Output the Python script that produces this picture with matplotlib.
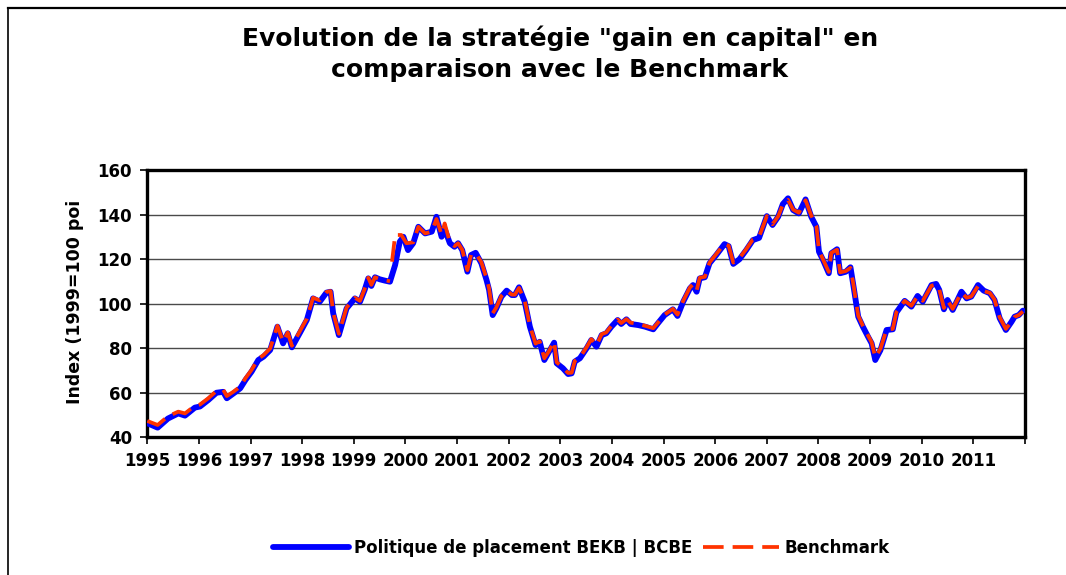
import numpy as np
import matplotlib
matplotlib.use("Agg")
import matplotlib.pyplot as plt
from matplotlib.lines import Line2D

# ---------------- data ----------------
years = [1995.00, 1995.20, 1995.40, 1995.60, 1995.73, 1995.92, 1996.02, 1996.18,
         1996.34, 1996.47, 1996.54, 1996.67, 1996.80, 1996.90, 1997.02, 1997.15,
         1997.25, 1997.38, 1997.52, 1997.63, 1997.72, 1997.80, 1997.96, 1998.09,
         1998.21, 1998.34, 1998.47, 1998.55, 1998.60, 1998.71, 1998.86, 1999.02,
         1999.12, 1999.21, 1999.28, 1999.34, 1999.41, 1999.50, 1999.60, 1999.70,
         1999.80, 1999.89, 1999.96, 2000.05, 2000.15, 2000.25, 2000.38, 2000.51,
         2000.60, 2000.70, 2000.76, 2000.86, 2000.95, 2001.02, 2001.10, 2001.20,
         2001.27, 2001.36, 2001.47, 2001.57, 2001.62, 2001.69, 2001.76, 2001.86,
         2001.96, 2002.06, 2002.12, 2002.20, 2002.31, 2002.41, 2002.52, 2002.60,
         2002.69, 2002.78, 2002.88, 2002.93, 2003.05, 2003.15, 2003.22, 2003.28,
         2003.38, 2003.51, 2003.60, 2003.70, 2003.80, 2003.89, 2003.99, 2004.11,
         2004.18, 2004.28, 2004.36, 2004.51, 2004.64, 2004.80, 2004.89, 2005.02,
         2005.18, 2005.27, 2005.38, 2005.51, 2005.57, 2005.64, 2005.70, 2005.80,
         2005.89, 2006.02, 2006.18, 2006.26, 2006.35, 2006.47, 2006.60, 2006.73,
         2006.85, 2007.00, 2007.11, 2007.22, 2007.31, 2007.41, 2007.51, 2007.62,
         2007.75, 2007.86, 2007.96, 2008.01, 2008.09, 2008.20, 2008.25, 2008.36,
         2008.42, 2008.53, 2008.62, 2008.68, 2008.77, 2008.86, 2008.96, 2009.03,
         2009.10, 2009.20, 2009.32, 2009.44, 2009.51, 2009.67, 2009.80, 2009.92,
         2010.02, 2010.19, 2010.28, 2010.34, 2010.43, 2010.50, 2010.60, 2010.77,
         2010.87, 2010.96, 2011.09, 2011.20, 2011.32, 2011.41, 2011.51, 2011.63,
         2011.74, 2011.80, 2011.88, 2011.96]

politique = [46.2, 44.2, 48.3, 50.6, 49.6, 53.2, 53.7, 56.6,
             59.9, 60.3, 57.4, 59.6, 61.9, 65.6, 69.4, 74.6,
             76.1, 79.1, 89.6, 82.1, 86.6, 80.3, 87.0, 92.6,
             102.3, 100.8, 104.9, 105.3, 95.6, 85.8, 97.8, 102.3,
             100.8, 106.1, 111.3, 107.9, 111.8, 110.9, 110.3, 109.8,
             117.3, 127.8, 130.0, 124.0, 127.1, 134.5, 131.5, 132.3,
             139.0, 130.0, 133.5, 127.1, 125.5, 127.1, 124.0, 114.3,
             121.8, 122.8, 118.1, 110.6, 106.1, 94.8, 97.8, 103.1,
             105.8, 103.8, 103.8, 107.3, 100.8, 89.6, 81.3, 82.8,
             74.6, 78.3, 82.4, 73.1, 70.9, 68.3, 68.6, 73.9,
             75.4, 79.9, 83.6, 80.6, 85.8, 86.6, 89.6, 92.6,
             90.8, 92.9, 90.8, 90.3, 89.6, 88.4, 91.1, 94.8,
             97.4, 94.4, 100.8, 106.8, 108.3, 105.3, 111.3, 111.8,
             118.1, 121.8, 126.7, 125.8, 117.8, 119.9, 124.0, 128.5,
             129.5, 139.3, 135.3, 139.0, 144.7, 147.3, 142.0, 140.5,
             146.8, 139.0, 134.5, 123.3, 119.5, 113.6, 122.6, 124.4,
             113.6, 114.3, 116.3, 107.6, 94.1, 89.6, 85.1, 82.1,
             74.6, 79.0, 88.1, 88.4, 96.0, 101.2, 98.6, 103.4,
             100.8, 108.3, 108.8, 106.1, 97.4, 101.6, 97.1, 105.3,
             102.3, 103.1, 108.3, 105.8, 104.6, 101.6, 93.4, 88.1,
             91.8, 94.1, 94.8, 96.8]

bench_years = [1995.00, 1995.20, 1995.40, 1995.60, 1995.73, 1995.92, 1996.02, 1996.18,
               1996.34, 1996.47, 1996.54, 1996.67, 1996.80, 1996.90, 1997.02, 1997.15,
               1997.25, 1997.38, 1997.52, 1997.63, 1997.72, 1997.80, 1997.96, 1998.09,
               1998.21, 1998.34, 1998.47, 1998.55, 1998.60, 1998.71, 1998.86, 1999.02,
               1999.12, 1999.21, 1999.28, 1999.34, 1999.41, 1999.50, 1999.60, 1999.70,
               1999.72, 1999.74, 1999.80, 1999.92, 2000.02, 2000.15, 2000.25, 2000.38,
               2000.51, 2000.60, 2000.70, 2000.76, 2000.86, 2000.95, 2001.02, 2001.10,
               2001.20, 2001.27, 2001.36, 2001.47, 2001.57, 2001.62, 2001.69, 2001.76,
               2001.86, 2001.96, 2002.06, 2002.12, 2002.20, 2002.31, 2002.41, 2002.52,
               2002.60, 2002.69, 2002.78, 2002.88, 2002.93, 2003.05, 2003.15, 2003.22,
               2003.28, 2003.38, 2003.51, 2003.60, 2003.70, 2003.80, 2003.89, 2003.99,
               2004.11, 2004.18, 2004.28, 2004.36, 2004.51, 2004.64, 2004.80, 2004.89,
               2005.02, 2005.18, 2005.27, 2005.38, 2005.51, 2005.57, 2005.64, 2005.70,
               2005.80, 2005.89, 2006.02, 2006.18, 2006.26, 2006.35, 2006.47, 2006.60,
               2006.73, 2006.85, 2007.00, 2007.11, 2007.22, 2007.31, 2007.41, 2007.51,
               2007.62, 2007.75, 2007.86, 2007.96, 2008.01, 2008.09, 2008.20, 2008.25,
               2008.36, 2008.42, 2008.53, 2008.62, 2008.68, 2008.77, 2008.86, 2008.96,
               2009.03, 2009.10, 2009.20, 2009.32, 2009.44, 2009.51, 2009.67, 2009.80,
               2009.92, 2010.02, 2010.19, 2010.28, 2010.34, 2010.43, 2010.50, 2010.60,
               2010.77, 2010.87, 2010.96, 2011.09, 2011.20, 2011.32, 2011.41, 2011.51,
               2011.63, 2011.74, 2011.80, 2011.88, 2011.96]

benchmark = [47.2, 45.4, 49.3, 51.4, 50.6, 54.0, 54.6, 57.4,
             60.7, 61.2, 58.4, 60.4, 62.7, 66.4, 70.2, 75.2,
             76.8, 79.8, 90.0, 82.8, 87.0, 81.0, 87.8, 93.2,
             102.6, 101.4, 105.2, 105.6, 96.0, 86.4, 98.2, 102.6,
             101.2, 106.6, 111.6, 108.4, 111.8, 111.0, 110.5, 110.0,
             np.nan, 118.8, 130.8, 130.8, 127.1, 127.5, 134.5, 131.5,
             132.3, 138.0, 131.0, 136.0, 127.5, 125.8, 127.1, 124.2,
             115.0, 121.8, 122.6, 118.6, 111.4, 106.8, 95.6, 98.2,
             103.4, 105.8, 104.0, 104.0, 107.0, 101.4, 90.0, 82.0,
             83.0, 75.4, 78.6, 83.0, 73.6, 71.2, 68.8, 68.9,
             74.2, 75.8, 80.4, 84.0, 81.2, 86.2, 87.0, 90.0,
             92.8, 91.2, 93.0, 91.4, 90.8, 90.0, 88.9, 91.4,
             95.0, 97.6, 95.0, 101.2, 107.2, 108.6, 105.8, 111.6,
             112.0, 118.4, 122.2, 126.9, 126.0, 118.4, 120.4, 124.4,
             128.8, 130.0, 139.3, 135.6, 139.2, 144.5, 146.6, 142.2,
             140.8, 146.4, 139.6, 134.8, 123.8, 119.8, 114.2, 122.8,
             124.2, 114.0, 114.6, 116.0, 108.2, 94.6, 90.0, 85.6,
             82.6, 75.8, 79.6, 88.4, 88.6, 96.2, 101.2, 99.0,
             103.4, 101.2, 108.0, 108.6, 106.4, 98.0, 101.4, 97.6,
             105.0, 102.6, 103.2, 107.8, 105.6, 104.8, 101.8, 93.8,
             88.6, 91.8, 94.0, 94.8, 96.4]

year_labels = [str(y) for y in range(1995, 2012)]
y_ticks = [40, 60, 80, 100, 120, 140, 160]

title = 'Evolution de la stratégie "gain en capital" en\ncomparaison avec le Benchmark'
ylabel = "Index (1999=100 poi"
label_pol = "Politique de placement BEKB | BCBE"
label_bench = "Benchmark"

# ---------------- drawing ----------------
plt.rcParams['font.family'] = ['DejaVu Sans']
plt.rcParams['font.weight'] = 'bold'

fig = plt.figure(figsize=(10.66, 5.75), dpi=100)
ax = fig.add_axes([0.1382, 0.240, 0.9615 - 0.1382, 0.7043 - 0.240])

BLUE = '#0000FF'
RED = '#FF3300'
DASH = (0, (5.5, 2.4))

ax.plot(years, politique, color=BLUE, lw=4.2, solid_capstyle='round',
        solid_joinstyle='round', zorder=3)
ax.plot(bench_years, benchmark, color=RED, lw=2.7, linestyle=DASH,
        dash_capstyle='butt', zorder=4)

ax.set_xlim(1995, 2012)
ax.set_ylim(40, 160)
ax.set_yticks(y_ticks)
ax.set_xticks(range(1995, 2013))
ax.set_xticklabels(year_labels + [""])
ax.yaxis.grid(True, color='#4a4a4a', lw=1.0)
ax.set_axisbelow(True)

for s in ax.spines.values():
    s.set_linewidth(2.4)
    s.set_color('black')

ax.tick_params(axis='both', direction='out', length=5, width=1.2,
               labelsize=12, pad=6)
for lab in ax.get_xticklabels() + ax.get_yticklabels():
    lab.set_fontweight('bold')

ax.set_ylabel(ylabel, fontsize=12.5, fontweight='bold')
ax.yaxis.set_label_coords(-0.072, 0.506)

fig.text(0.525, 0.906, title, ha='center', va='center', fontsize=18,
         fontweight='bold', linespacing=1.35)

handles = [Line2D([], [], color=BLUE, lw=4.2, solid_capstyle='round'),
           Line2D([], [], color=RED, lw=2.7, linestyle=DASH)]
leg = fig.legend(handles, [label_pol, label_bench], loc='center',
                 bbox_to_anchor=(0.545, 0.047), ncol=2, frameon=False,
                 fontsize=12, handlelength=4.6, handletextpad=0.3,
                 columnspacing=0.6)
for t in leg.get_texts():
    t.set_fontweight('bold')

# outer chart frame (left and top edges visible in reference)
fig.add_artist(Line2D([8 / 1066, 8 / 1066], [0, 1 - 8 / 575], color='black',
                      lw=1.2, transform=fig.transFigure))
fig.add_artist(Line2D([8 / 1066, 1], [1 - 8 / 575, 1 - 8 / 575], color='black',
                      lw=1.6, transform=fig.transFigure))

fig.savefig("out.png", dpi=100)
